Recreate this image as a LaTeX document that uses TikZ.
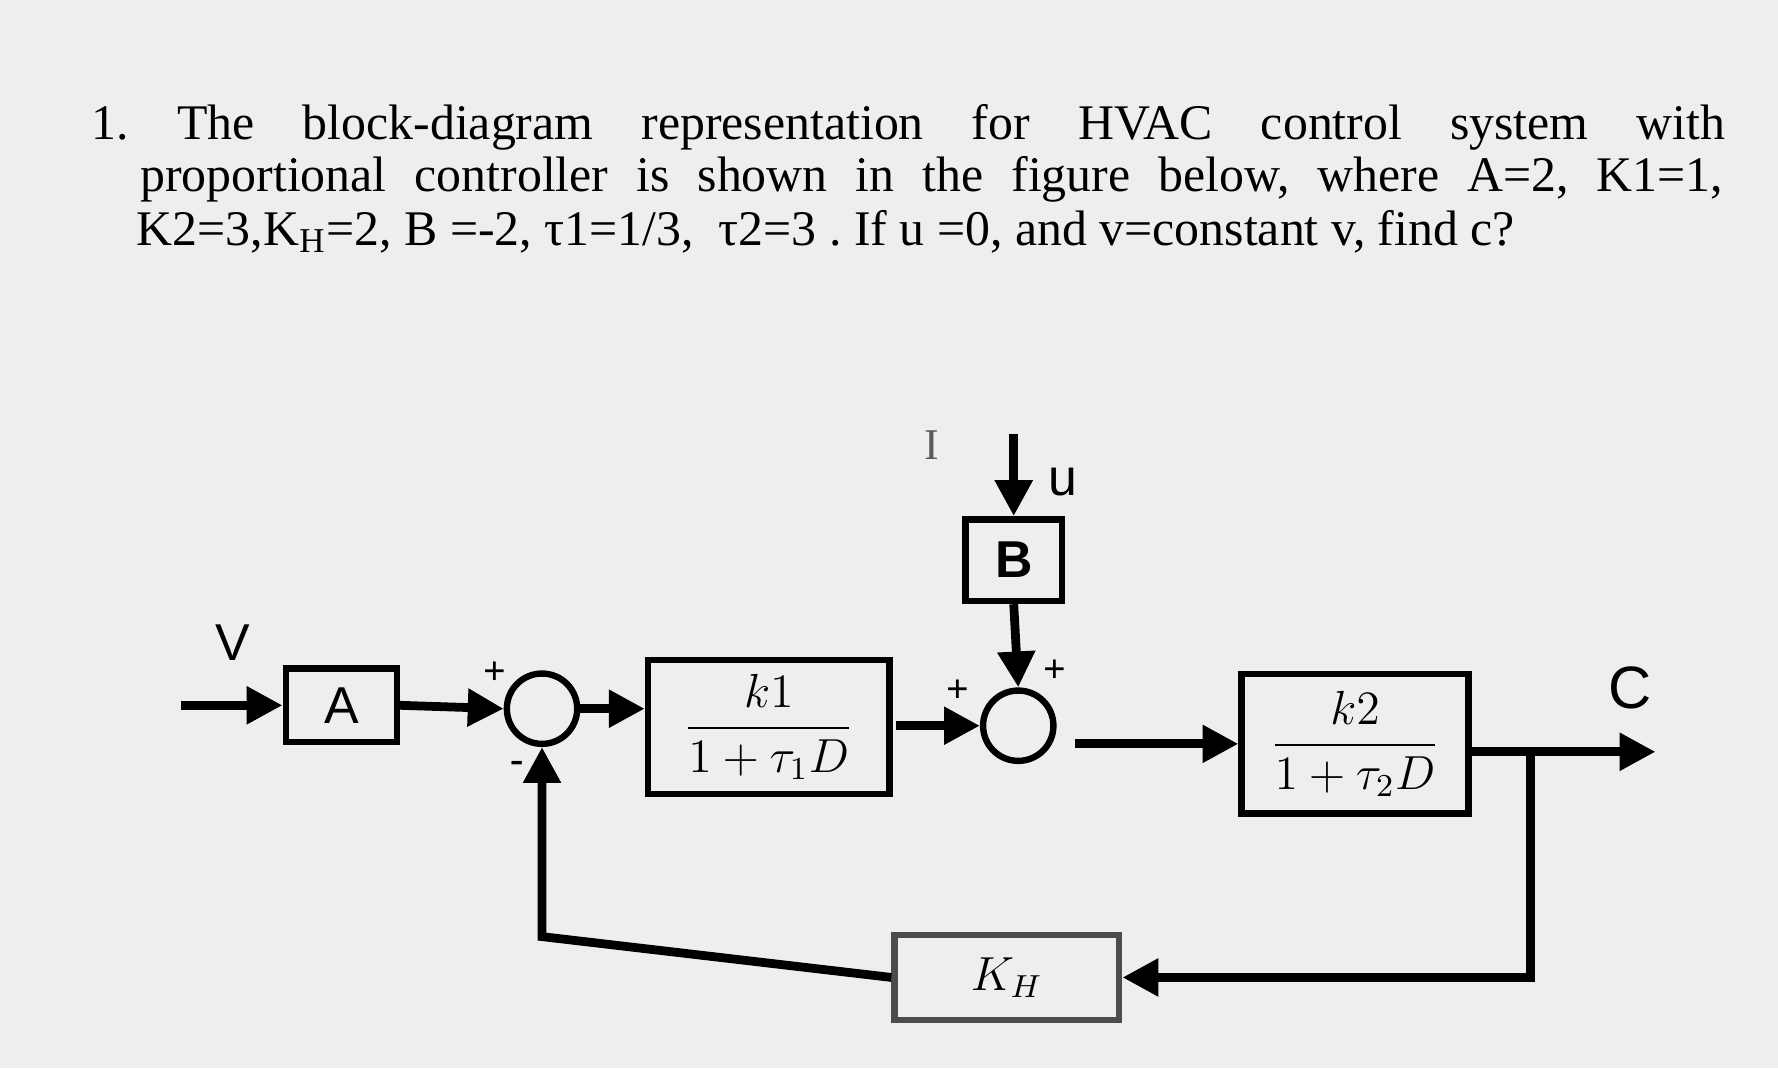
\documentclass[tikz,border=0pt]{standalone}
\usepackage{amsmath}
\usepackage{fontspec}
\setmainfont{Liberation Serif}
\newfontfamily\labelfont{Liberation Sans}
\usetikzlibrary{arrows.meta,positioning}
\tikzset{
  blk/.style={draw, line width=1.6pt, inner sep=0pt},
  sumnode/.style={draw, circle, line width=1.6pt, minimum size=0.62cm, inner sep=0pt},
  sig/.style={line width=2.2pt, -{Triangle[length=9pt,width=9pt]}},
  lbl/.style={font=\labelfont\fontsize{13}{15}\selectfont},
  frac/.style={font=\fontsize{12}{14}\selectfont},
  qline/.style={anchor=west, inner sep=0pt, text width=#1cm, align=justify,
    font=\fontsize{12.5}{15}\selectfont},
}
\begin{document}
\frenchspacing
\begin{tikzpicture}[x=0.01cm,y=-0.01cm]
  \fill[gray!13] (0,0) rectangle (1568,942);
  \useasboundingbox (0,0) rectangle (1568,942);

  % question text
  \node[qline=14.4] (q1) at (80,112) {\noindent\parfillskip=0pt 1. The block-diagram representation for HVAC control system with\par};
  \node[qline=13.95] (q2) at (123,158) {\noindent\parfillskip=0pt proportional controller is shown in the figure below, where A=2, K1=1,\par};
  \node[anchor=west, inner sep=0pt, font=\fontsize{12.5}{15}\selectfont] (q3) at (120,204)
    {K2=3,K\textsubscript{H}=2, B =-2, τ1=1/3,\ \ τ2=3 . If u =0, and v=constant v, find c?};
  \node[font=\fontsize{11}{13}\selectfont, gray!70!black] (cur) at (822,393) {I};

  % blocks
  \node[blk, minimum width=0.98cm, minimum height=0.65cm, lbl] (A) at (301,622) {A};
  \node[blk, minimum width=0.85cm, minimum height=0.72cm, lbl] (B) at (894,494) {\textbf{B}};
  \node[blk, frac, minimum width=2.13cm, minimum height=1.18cm] (G1) at (678,641) {$\dfrac{k1}{1+\tau_1 D}$};
  \node[blk, frac, minimum width=2.0cm, minimum height=1.23cm] (G2) at (1195,656) {$\dfrac{k2}{1+\tau_2 D}$};
  \node[blk, frac, draw=gray!60!black, minimum width=1.98cm, minimum height=0.75cm] (KH) at (888,862) {$K_H$};
  \node[sumnode] (S1) at (478,625) {};
  \node[sumnode] (S2) at (898,640) {};

  % input and output points
  \coordinate (vin) at (160,622);
  \coordinate (uin) at (894,383);
  \coordinate (cout) at (1460,663);
  \coordinate (br) at (1350,663);
  \coordinate (s2out) at (948,656);
  \coordinate (g1out) at (790,640);
  \node[lbl] (vlab) at (205,567) {V};
  \node[lbl] (ulab) at (937,425) {u};
  \node[lbl, font=\labelfont\fontsize{15}{17}\selectfont] (clab) at (1438,607) {C};

  % signals
  \draw[sig] (vin) -- (A.west);
  \draw[sig] (A.east) -- (S1.west);
  \draw[sig] (S1.east) -- (S1.east -| G1.west);
  \draw[sig] (uin) -- (B.north);
  \draw[sig] (B.south) -- (S2.north);
  \draw[sig] (g1out) -- (S2.west);
  \draw[sig] (s2out) -- (s2out -| G2.west);
  \draw[sig] (G2.east |- cout) -- (cout);
  \draw[sig] (br) |- (KH.east);
  \draw[sig] (KH.west) -- (478,826) -- (S1.south);

  % signs
  \node (p1) at (436,594) {\textbf{+}};
  \node (m1) at (456,676) {\textbf{-}};
  \node (p2) at (845,610) {\textbf{+}};
  \node (p3) at (930,592) {\textbf{+}};
\end{tikzpicture}
\end{document}
